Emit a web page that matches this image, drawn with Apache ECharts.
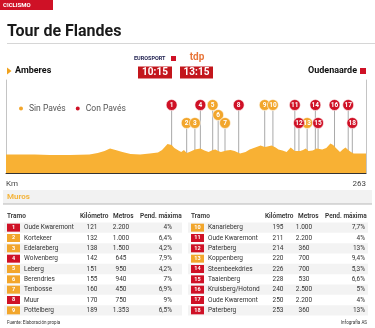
<!DOCTYPE html>
<html>
<head>
<meta charset="utf-8">
<script src="https://cdn.jsdelivr.net/npm/echarts@6.0.0/dist/echarts.min.js"></script>
<style>
  html, body { margin: 0; padding: 0; background: #fff; }
  #chart { width: 375px; height: 328px; }
</style>
</head>
<body>
<div id="chart"></div>
<script>
// route profile (km, elevation)
const profileKm = [0, 10, 21, 32, 47, 61, 67, 72, 76, 80, 85, 91, 98, 105, 111, 114, 116, 118, 121, 123, 126, 128, 130, 132, 134, 138, 142, 145, 148, 151, 153, 155, 157, 161, 164, 167, 171, 175, 178, 182, 186, 189, 191, 194, 197, 199, 202, 205, 208, 211, 215, 217, 219, 221, 224, 227, 231, 234, 237, 239, 241, 244, 246, 248, 250, 252, 254, 259, 263];
const profileElev = [37, 37, 37, 36, 36, 37, 40, 44, 49, 46, 42, 38, 37, 39, 41, 46, 52, 58, 56, 50, 45, 42, 46, 40, 42, 47, 49, 45, 42, 46, 47, 44, 42, 45, 46, 44, 39, 42, 47, 51, 55, 52, 53, 55, 51, 47, 45, 42, 51, 44, 44, 46, 49, 44, 45, 49, 47, 50, 59, 56, 50, 42, 47, 51, 46, 42, 39, 39, 39];

// climbs (muros)
const climbNames = ["Oude Kwaremont", "Kortekeer", "Edelareberg", "Wolvenberg", "Leberg", "Berendries", "Tenbosse", "Muur", "Pottelberg",
  "Kanarieberg", "Oude Kwaremont", "Paterberg", "Koppenberg", "Steenbeekdries", "Taaienberg", "Kruisberg/Hotond", "Oude Kwaremont", "Paterberg"];
const climbKm = [121, 132, 138, 142, 151, 155, 160, 170, 189, 195, 211, 214, 220, 226, 228, 240, 250, 253];
const climbMetros = ["2.200", "1.000", "1.500", "645", "950", "940", "450", "750", "1.353", "1.000", "2.200", "360", "700", "700", "530", "2.500", "2.200", "360"];
const climbPend = ["4%", "6,4%", "4,2%", "7,9%", "4,2%", "7%", "6,9%", "9%", "6,5%", "7,7%", "4%", "13%", "9,4%", "5,3%", "6,6%", "5%", "4%", "13%"];
const climbPave = [1, 0, 0, 1, 0, 0, 0, 1, 0, 0, 1, 1, 0, 1, 1, 1, 1, 1];

// label row of each marker above the profile (0 = top, 1 = middle, 2 = low)
const labelTier = [0, 2, 2, 0, 0, 1, 2, 0, 0, 0, 0, 2, 2, 0, 2, 0, 0, 2];
const tierValue = [136, 116, 100];

const RED = "#cf1126";
const ORANGE = "#f2a62c";
const FILL = "#f8b134";
const FONT = "Roboto, 'Noto Sans', sans-serif";

const profile = profileKm.map((k, i) => [k, profileElev[i]]);
const markers = climbKm.map((k, i) => ({ value: [k, tierValue[labelTier[i]]], name: String(i + 1), pave: climbPave[i] }));
const tableRows = climbKm.map((k, i) => [0, i % 9, i]);

const COLS = [
  { x0: 4, w: 178, badge: 7, name: 24, km: 92, m: 121, p: 172 },
  { x0: 188, w: 180, badge: 191, name: 208, km: 278, m: 304, p: 365 }
];

function txt(text, x, y, o) {
  return {
    type: "text", x, y, silent: true,
    style: Object.assign({ text, fill: "#222", font: "normal 7px " + FONT, align: "left", verticalAlign: "middle" }, o || {})
  };
}

const headers = ["Tramo", "Kilómetro", "Metros", "Pend. máxima"];
const headerX = [[7, 80, 113, 140], [191, 265, 298, 325]];
const headerEls = [];
headerX.forEach(xs => xs.forEach((x, j) => headerEls.push(txt(headers[j], x, 216, { font: "600 6.5px " + FONT, fill: "#333" }))));

const chart = echarts.init(document.getElementById("chart"), null, { renderer: "canvas" });
chart.setOption({
  animation: false,
  backgroundColor: "#fff",
  textStyle: { fontFamily: FONT },
  legend: {
    left: 12, top: 99, icon: "circle", itemWidth: 6, itemHeight: 6, itemGap: 8,
    textStyle: { fontSize: 8.5, color: "#555", fontFamily: FONT },
    data: ["Sin Pavés", "Con Pavés"]
  },
  grid: [
    { left: 6, width: 360, top: 80, height: 93 },
    { left: 0, width: 375, top: 222.5, height: 93 }
  ],
  xAxis: [
    {
      type: "value", gridIndex: 0, min: 0, max: 263, interval: 263,
      axisLine: { lineStyle: { color: "#333", width: 1 } },
      axisTick: { show: false }, splitLine: { show: false },
      axisLabel: {
        fontSize: 8, color: "#444", margin: 7, showMinLabel: true, showMaxLabel: true,
        alignMinLabel: "left", alignMaxLabel: "right",
        formatter: v => (v === 0 ? "Km" : String(v))
      }
    },
    { type: "value", gridIndex: 1, min: 0, max: 375, show: false }
  ],
  yAxis: [
    {
      type: "value", gridIndex: 0, min: 0, max: 186,
      axisLine: { show: true, lineStyle: { color: "#c4c4c4" } },
      axisTick: { show: false }, axisLabel: { show: false }, splitLine: { show: false }
    },
    {
      type: "value", gridIndex: 0, min: 0, max: 186, position: "right",
      axisLine: { show: true, lineStyle: { color: "#c4c4c4" } },
      axisTick: { show: false }, axisLabel: { show: false }, splitLine: { show: false }
    },
    {
      type: "category", gridIndex: 1, inverse: true, show: false,
      data: ["0", "1", "2", "3", "4", "5", "6", "7", "8"]
    }
  ],
  series: [
    {
      type: "custom", name: "stems", xAxisIndex: 0, yAxisIndex: 0, z: 1, silent: true,
      data: markers.map(m => m.value),
      renderItem: (params, api) => {
        const top = api.coord([api.value(0), api.value(1)]);
        const bot = api.coord([api.value(0), 0]);
        return { type: "line", shape: { x1: top[0], y1: top[1], x2: bot[0], y2: bot[1] }, style: { stroke: "#a9a9a9", lineWidth: 1 } };
      }
    },
    {
      type: "line", name: "perfil", xAxisIndex: 0, yAxisIndex: 0, z: 2, silent: true,
      data: profile, showSymbol: false, symbol: "none",
      lineStyle: { width: 0, color: FILL }, itemStyle: { color: FILL },
      areaStyle: { color: FILL, opacity: 1 }
    },
    ...[["Sin Pavés", 0, ORANGE], ["Con Pavés", 1, RED]].map(([name, pv, color]) => ({
      type: "scatter", name, xAxisIndex: 0, yAxisIndex: 0, z: 3, silent: true,
      symbol: "circle", symbolSize: 11,
      itemStyle: { color, borderColor: "#fff", borderWidth: 0.6, opacity: 1 },
      label: { show: true, position: "inside", formatter: p => p.name, color: "#fff", fontSize: 6.5, fontWeight: "bold", fontFamily: FONT },
      data: markers.filter(m => m.pave === pv).map(m => ({ value: m.value, name: m.name }))
    })),
    {
      type: "custom", name: "muros", xAxisIndex: 1, yAxisIndex: 2, silent: true,
      data: tableRows,
      renderItem: (params, api) => {
        const row = api.value(1), i = api.value(2);
        const col = COLS[i < 9 ? 0 : 1];
        const yc = api.coord([0, row])[1];
        const rh = api.size([0, 1])[1];
        const X = x => api.coord([x, row])[0];
        const children = [];
        if (row % 2 === 0) {
          children.push({ type: "rect", shape: { x: X(col.x0), y: yc - rh / 2, width: col.w, height: rh }, style: { fill: "#f3f3f3" } });
        }
        children.push({ type: "rect", shape: { x: X(col.badge), y: yc - 4, width: 13, height: 8 }, style: { fill: climbPave[i] ? RED : ORANGE } });
        children.push({ type: "text", style: { text: String(i + 1), x: X(col.badge + 6.5), y: yc, fill: "#fff", font: "bold 5.5px " + FONT, align: "center", verticalAlign: "middle" } });
        children.push({ type: "text", style: { text: climbNames[i], x: X(col.name), y: yc, fill: "#333", font: "normal 6.5px " + FONT, align: "left", verticalAlign: "middle" } });
        children.push({ type: "text", style: { text: String(climbKm[i]), x: X(col.km), y: yc, fill: "#333", font: "normal 6.5px " + FONT, align: "center", verticalAlign: "middle" } });
        children.push({ type: "text", style: { text: climbMetros[i], x: X(col.m), y: yc, fill: "#333", font: "normal 6.5px " + FONT, align: "center", verticalAlign: "middle" } });
        children.push({ type: "text", style: { text: climbPend[i], x: X(col.p), y: yc, fill: "#333", font: "normal 6.5px " + FONT, align: "right", verticalAlign: "middle" } });
        return { type: "group", children };
      }
    }
  ],
  graphic: [
    { type: "rect", shape: { x: 0, y: 0, width: 53, height: 10 }, style: { fill: RED } },
    txt("CICLISMO", 3, 5.3, { fill: "#fff", font: "bold 6px " + FONT }),
    txt("Tour de Flandes", 7, 31.5, { fill: "#1a1a1a", font: "bold 16px " + FONT }),
    { type: "rect", shape: { x: 7, y: 43, width: 368, height: 0.8 }, style: { fill: "#c8c8c8" } },
    txt("EUROSPORT", 134, 58.5, { fill: "#1d1e4e", font: "bold 5.5px " + FONT }),
    { type: "rect", shape: { x: 171, y: 56, width: 5, height: 5 }, style: { fill: RED } },
    txt("tdp", 197, 57.5, { fill: "#e8763a", font: "bold 10px " + FONT, align: "center" }),
    { type: "rect", shape: { x: 138, y: 66.5, width: 34, height: 12 }, style: { fill: "#c3161c" } },
    txt("10:15", 155, 72.8, { fill: "#fff", font: "bold 10px " + FONT, align: "center" }),
    { type: "rect", shape: { x: 180, y: 66.5, width: 33, height: 12 }, style: { fill: "#c3161c" } },
    txt("13:15", 196.5, 72.8, { fill: "#fff", font: "bold 10px " + FONT, align: "center" }),
    { type: "polygon", shape: { points: [[7, 67.5], [11.5, 71], [7, 74.5]] }, style: { fill: "#f0a21e" } },
    txt("Amberes", 15, 71, { fill: "#111", font: "bold 9px " + FONT }),
    txt("Oudenaarde", 357, 71, { fill: "#111", font: "bold 9px " + FONT, align: "right" }),
    { type: "rect", shape: { x: 360, y: 68, width: 6, height: 6 }, style: { fill: RED } },
    { type: "rect", shape: { x: 3, y: 190, width: 369, height: 14 }, style: { fill: "#f2f2f2" } },
    { type: "rect", shape: { x: 3, y: 203.5, width: 369, height: 1 }, style: { fill: "#b8b8b8" } },
    txt("Muros", 7, 197, { fill: "#f4b53f", font: "bold 8px " + FONT }),
    ...headerEls,
    txt("Fuente: Elaboración propia", 7, 323, { fill: "#333", font: "normal 4.5px " + FONT }),
    txt("Infografía AS", 367, 323, { fill: "#333", font: "normal 4.5px " + FONT, align: "right" })
  ]
});
</script>
</body>
</html>
